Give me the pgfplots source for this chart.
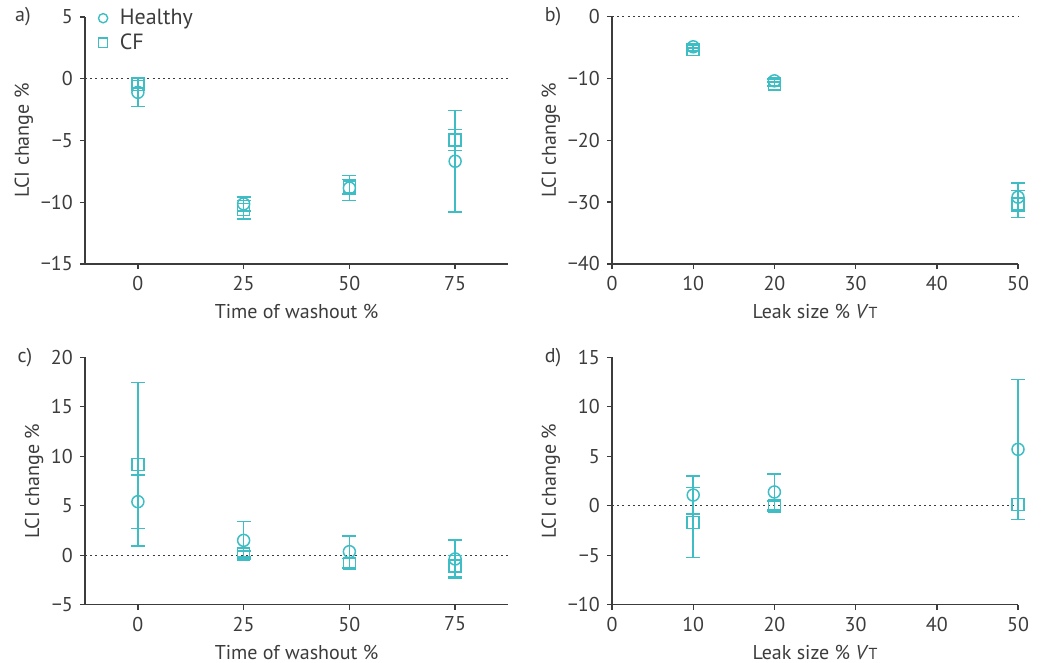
\documentclass[border=0pt]{standalone}
\usepackage{pgfplots}
\pgfplotsset{compat=1.18}
\usepackage{fontspec}
\setmainfont{PT Sans}

\definecolor{teal1}{RGB}{62,190,196}
\definecolor{axgray}{RGB}{60,60,60}

\pgfplotsset{
  panel/.style={
    scale only axis,
    anchor=south west,
    axis lines*=left,
    axis line style={axgray, line width=0.7bp},
    tick style={axgray, line width=0.7bp},
    tick align=outside,
    major tick length=2.6bp,
    /pgf/number format/assume math mode=true,
    font=\fontsize{10bp}{12bp}\selectfont,
    every tick label/.append style={text=axgray},
    label style={text=axgray},
    ylabel={LCI change \%},
    ylabel style={yshift=-3bp},
    clip=false,
    legend style={draw=none, fill=none, font=\fontsize{11bp}{13bp}\selectfont, text=axgray},
  },
  grp/.style={
    only marks, draw=teal1, mark=#1, mark size=3bp, line width=0.75bp,
    mark options={fill=white, draw=teal1, solid},
    error bars/.cd, y dir=both, y explicit,
    error bar style={line width=0.75bp, draw=teal1, solid},
    error mark options={rotate=90, line width=0.75bp, mark size=3.5bp, draw=teal1, solid},
  },
  zeroline/.style={axgray, line width=0.6bp, dash pattern=on 1bp off 1.6bp, forget plot},
}

\begin{document}
\begin{tikzpicture}
\useasboundingbox (0,0) rectangle (522.5bp,331.5bp);

% a) time of washout
\begin{axis}[panel,
  at={(42.5bp,199.5bp)}, width=211.5bp, height=123.5bp,
  xmin=-12.5, xmax=87.5, ymin=-15, ymax=5,
  xtick={0,25,50,75},
  ytick={-15,-10,-5,0,5}, yticklabels={−15,−10,−5,0,5},
  xlabel={Time of washout \%},
  reverse legend,
  legend style={at={(axis description cs:0.031,1.05)}, anchor=north west,
    row sep=-1bp, inner sep=0pt},
  legend cell align=left,
  legend image code/.code={\draw[#1, mark size=2.3bp, line width=0.7bp] plot coordinates {(0.1cm,0cm)};
    \path (0.1cm+6bp,0cm);},
]
\addplot[zeroline] coordinates {(-12.5,0) (87.5,0)};
\addplot[grp=square] table[y error=e] {
x y e
0 -0.45 0.3
25 -10.6 0.75
50 -8.75 0.6
75 -4.95 0.85
};
\addlegendentry{CF}
\addplot[grp=o] table[y error=e] {
x y e
0 -1.1 1.16
25 -10.13 0.56
50 -8.85 1.0
75 -6.68 4.1
};
\addlegendentry{Healthy}
\end{axis}

% b) leak size
\begin{axis}[panel,
  at={(306bp,199.5bp)}, width=203bp, height=123.75bp,
  xmin=0, xmax=50, ymin=-40, ymax=0,
  xtick={0,10,20,30,40,50},
  ytick={-40,-30,-20,-10,0}, yticklabels={−40,−30,−20,−10,0},
  xlabel={Leak size \% \textit{V}{\footnotesize T}},
]
\addplot[zeroline] coordinates {(0,0) (50,0)};
\addplot[grp=square] table[y error=e] {
x y e
10 -5.3 0.3
20 -10.9 0.3
50 -30.3 2.2
};
\addplot[grp=o] table[y error=e] {
x y e
10 -4.9 0.3
20 -10.4 0.3
50 -29.2 2.3
};
\end{axis}

% c) time of washout
\begin{axis}[panel,
  at={(42.5bp,29.15bp)}, width=211.5bp, height=123.7bp,
  xmin=-12.5, xmax=87.5, ymin=-5, ymax=20,
  xtick={0,25,50,75},
  ytick={-5,0,5,10,15,20}, yticklabels={−5,0,5,10,15,20},
  xlabel={Time of washout \%},
]
\addplot[zeroline] coordinates {(-12.5,0) (87.5,0)};
\addplot[grp=square] table[y error=e] {
x y e
0 9.19 8.28
25 0.12 0.3
50 -0.82 0.5
75 -1.09 1.08
};
\addplot[grp=o] table[y error=e] {
x y e
0 5.41 2.7
25 1.5 1.89
50 0.36 1.58
75 -0.38 1.92
};
\end{axis}

% d) leak size
\begin{axis}[panel,
  at={(306bp,29.15bp)}, width=203bp, height=123.7bp,
  xmin=0, xmax=50, ymin=-10, ymax=15,
  xtick={0,10,20,30,40,50},
  ytick={-10,-5,0,5,10,15}, yticklabels={−10,−5,0,5,10,15},
  xlabel={Leak size \% \textit{V}{\footnotesize T}},
]
\addplot[zeroline] coordinates {(0,0) (50,0)};
\addplot[grp=square] table[y error=e] {
x y e
10 -1.7 3.53
20 -0.03 0.5
50 0.14 0.6
};
\addplot[grp=o] table[y error=e] {
x y e
10 1.08 1.92
20 1.39 1.82
50 5.7 7.08
};
\end{axis}

\node[text=axgray, font=\fontsize{10bp}{12bp}\selectfont] at (11.5bp,323bp) {a)};
\node[text=axgray, font=\fontsize{10bp}{12bp}\selectfont] at (276.5bp,323bp) {b)};
\node[text=axgray, font=\fontsize{10bp}{12bp}\selectfont] at (12.5bp,152.5bp) {c)};
\node[text=axgray, font=\fontsize{10bp}{12bp}\selectfont] at (276.5bp,152.5bp) {d)};
\end{tikzpicture}
\end{document}
